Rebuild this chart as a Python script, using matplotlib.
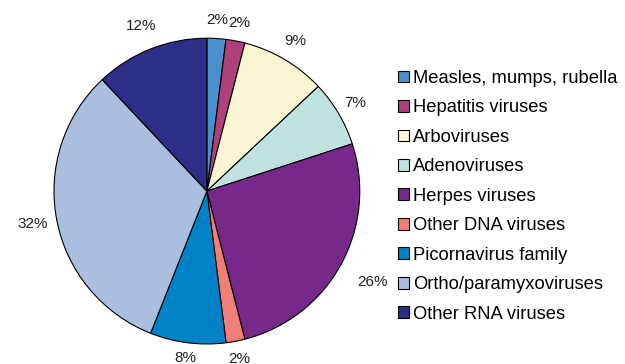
import numpy as np
import matplotlib.pyplot as plt

plt.rcParams['font.family'] = ['Liberation Sans', 'DejaVu Sans']

categories = ['Measles, mumps, rubella', 'Hepatitis viruses', 'Arboviruses',
              'Adenoviruses', 'Herpes viruses', 'Other DNA viruses',
              'Picornavirus family', 'Ortho/paramyxoviruses', 'Other RNA viruses']
shares = [2, 2, 9, 7, 26, 2, 8, 32, 12]
colors = ['#4a90cc', '#b0407a', '#faf5d2', '#bfe2df', '#77298a',
          '#f07f78', '#0082c6', '#aabee0', '#2c2e88']
# distance of each percent label from the centre, in radii
label_dist = [1.12, 1.12, 1.14, 1.13, 1.24, 1.12, 1.1, 1.16, 1.16]

fig = plt.figure(figsize=(6.25, 3.64), dpi=100)
ax = fig.add_axes([0.086, 0.055, 0.49, 0.84])

wedges, _ = ax.pie(shares, colors=colors, startangle=90, counterclock=False,
                   wedgeprops=dict(edgecolor='black', linewidth=0.8))
ax.set_xlim(-1, 1)
ax.set_ylim(-1, 1)
ax.set_aspect('equal')

for w, v, d in zip(wedges, shares, label_dist):
    ang = np.deg2rad((w.theta1 + w.theta2) / 2)
    ax.text(d * np.cos(ang), d * np.sin(ang), f'{v}%', ha='center', va='center',
            fontsize=11, color='#222222')

leg = fig.legend(wedges, categories, loc='upper left', bbox_to_anchor=(0.636, 0.808),
                 frameon=False, fontsize=13.2, handlelength=0.6, handleheight=0.6,
                 handletextpad=0.25, labelspacing=0.68, borderaxespad=0,
                 borderpad=0)
for h in leg.legend_handles:
    h.set_linewidth(0.8)

fig.savefig('out.png', dpi=100)
